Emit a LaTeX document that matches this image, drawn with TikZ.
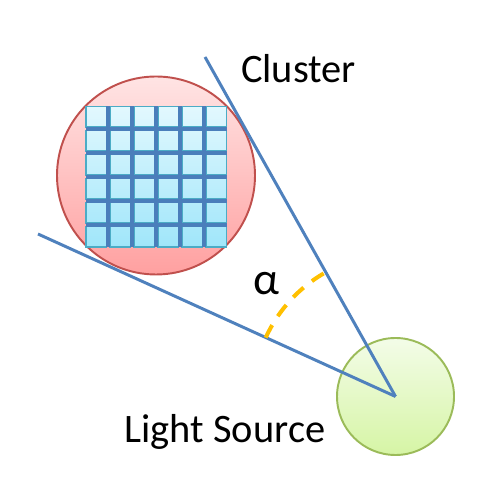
\documentclass[tikz,border=0pt]{standalone}
\usepackage{fontspec}
\setmainfont{Carlito}
\usepackage{xcolor}
\usepackage{tikz}
\usetikzlibrary{shapes,positioning}

\definecolor{rayblue}{RGB}{79,129,189}
\definecolor{gridblue}{RGB}{74,126,187}
\definecolor{cellcyan}{RGB}{75,172,198}
\definecolor{celltop}{RGB}{226,248,254}
\definecolor{cellbot}{RGB}{160,230,250}
\definecolor{clusteredge}{RGB}{192,80,77}
\definecolor{clustertop}{RGB}{255,228,228}
\definecolor{clusterbot}{RGB}{255,160,160}
\definecolor{sourceedge}{RGB}{155,187,89}
\definecolor{sourcetop}{RGB}{243,252,232}
\definecolor{sourcebot}{RGB}{214,245,165}
\definecolor{arcorange}{RGB}{255,192,0}

\begin{document}
\begin{tikzpicture}[
    ball/.style={circle, line width=1.1pt, inner sep=0pt},
    ray/.style={rayblue, line width=1.7pt},
    cellbox/.style={draw=cellcyan, line width=0.7pt},
    label/.style={font=\fontsize{23}{28}\selectfont, anchor=base}
]
\useasboundingbox (0,0) rectangle (9.7,10);

% Cluster
\node[ball, draw=clusteredge, top color=clustertop, bottom color=clusterbot, minimum size=3.96cm] (cluster) at (3.12,6.49) {};

% Grid of the cluster
\shade[top color=celltop, bottom color=cellbot] (1.72,5.06) rectangle (4.53,7.87);
\foreach \i in {0,...,5} {
    \foreach \j in {0,...,5} {
        \draw[cellbox] (1.72+0.48*\i, 5.06+0.48*\j) rectangle ++(0.41,0.41);
    }
}
\foreach \i in {1,...,5} {
    \fill[gridblue] (1.72+0.48*\i-0.075, 5.06) rectangle ++(0.08,2.81);
    \fill[gridblue] (1.72, 5.06+0.48*\i-0.075) rectangle ++(2.81,0.08);
}

% Light source
\node[ball, draw=sourceedge, top color=sourcetop, bottom color=sourcebot, minimum size=2.34cm] (source) at (7.91,2.07) {};

% Rays
\coordinate (raytop) at (4.1,8.86);
\coordinate (rayleft) at (0.76,5.32);
\draw[ray] (source.center) -- (raytop);
\draw[ray] (source.center) -- (rayleft);

% Angle
\draw[arcorange, line width=2.3pt, dash pattern=on 8pt off 6pt]
    ([shift={(155.6:2.85)}]source.center) arc[start angle=155.6, end angle=119.3, radius=2.85];

% Labels
\node[label] (clusterlabel) at (5.97,8.34) {Cluster};
\node[label, font=\fontsize{26}{30}\selectfont] (alpha) at (5.33,4.1) {α};
\node[label] (sourcelabel) at (4.5,1.14) {Light Source};

\end{tikzpicture}
\end{document}
